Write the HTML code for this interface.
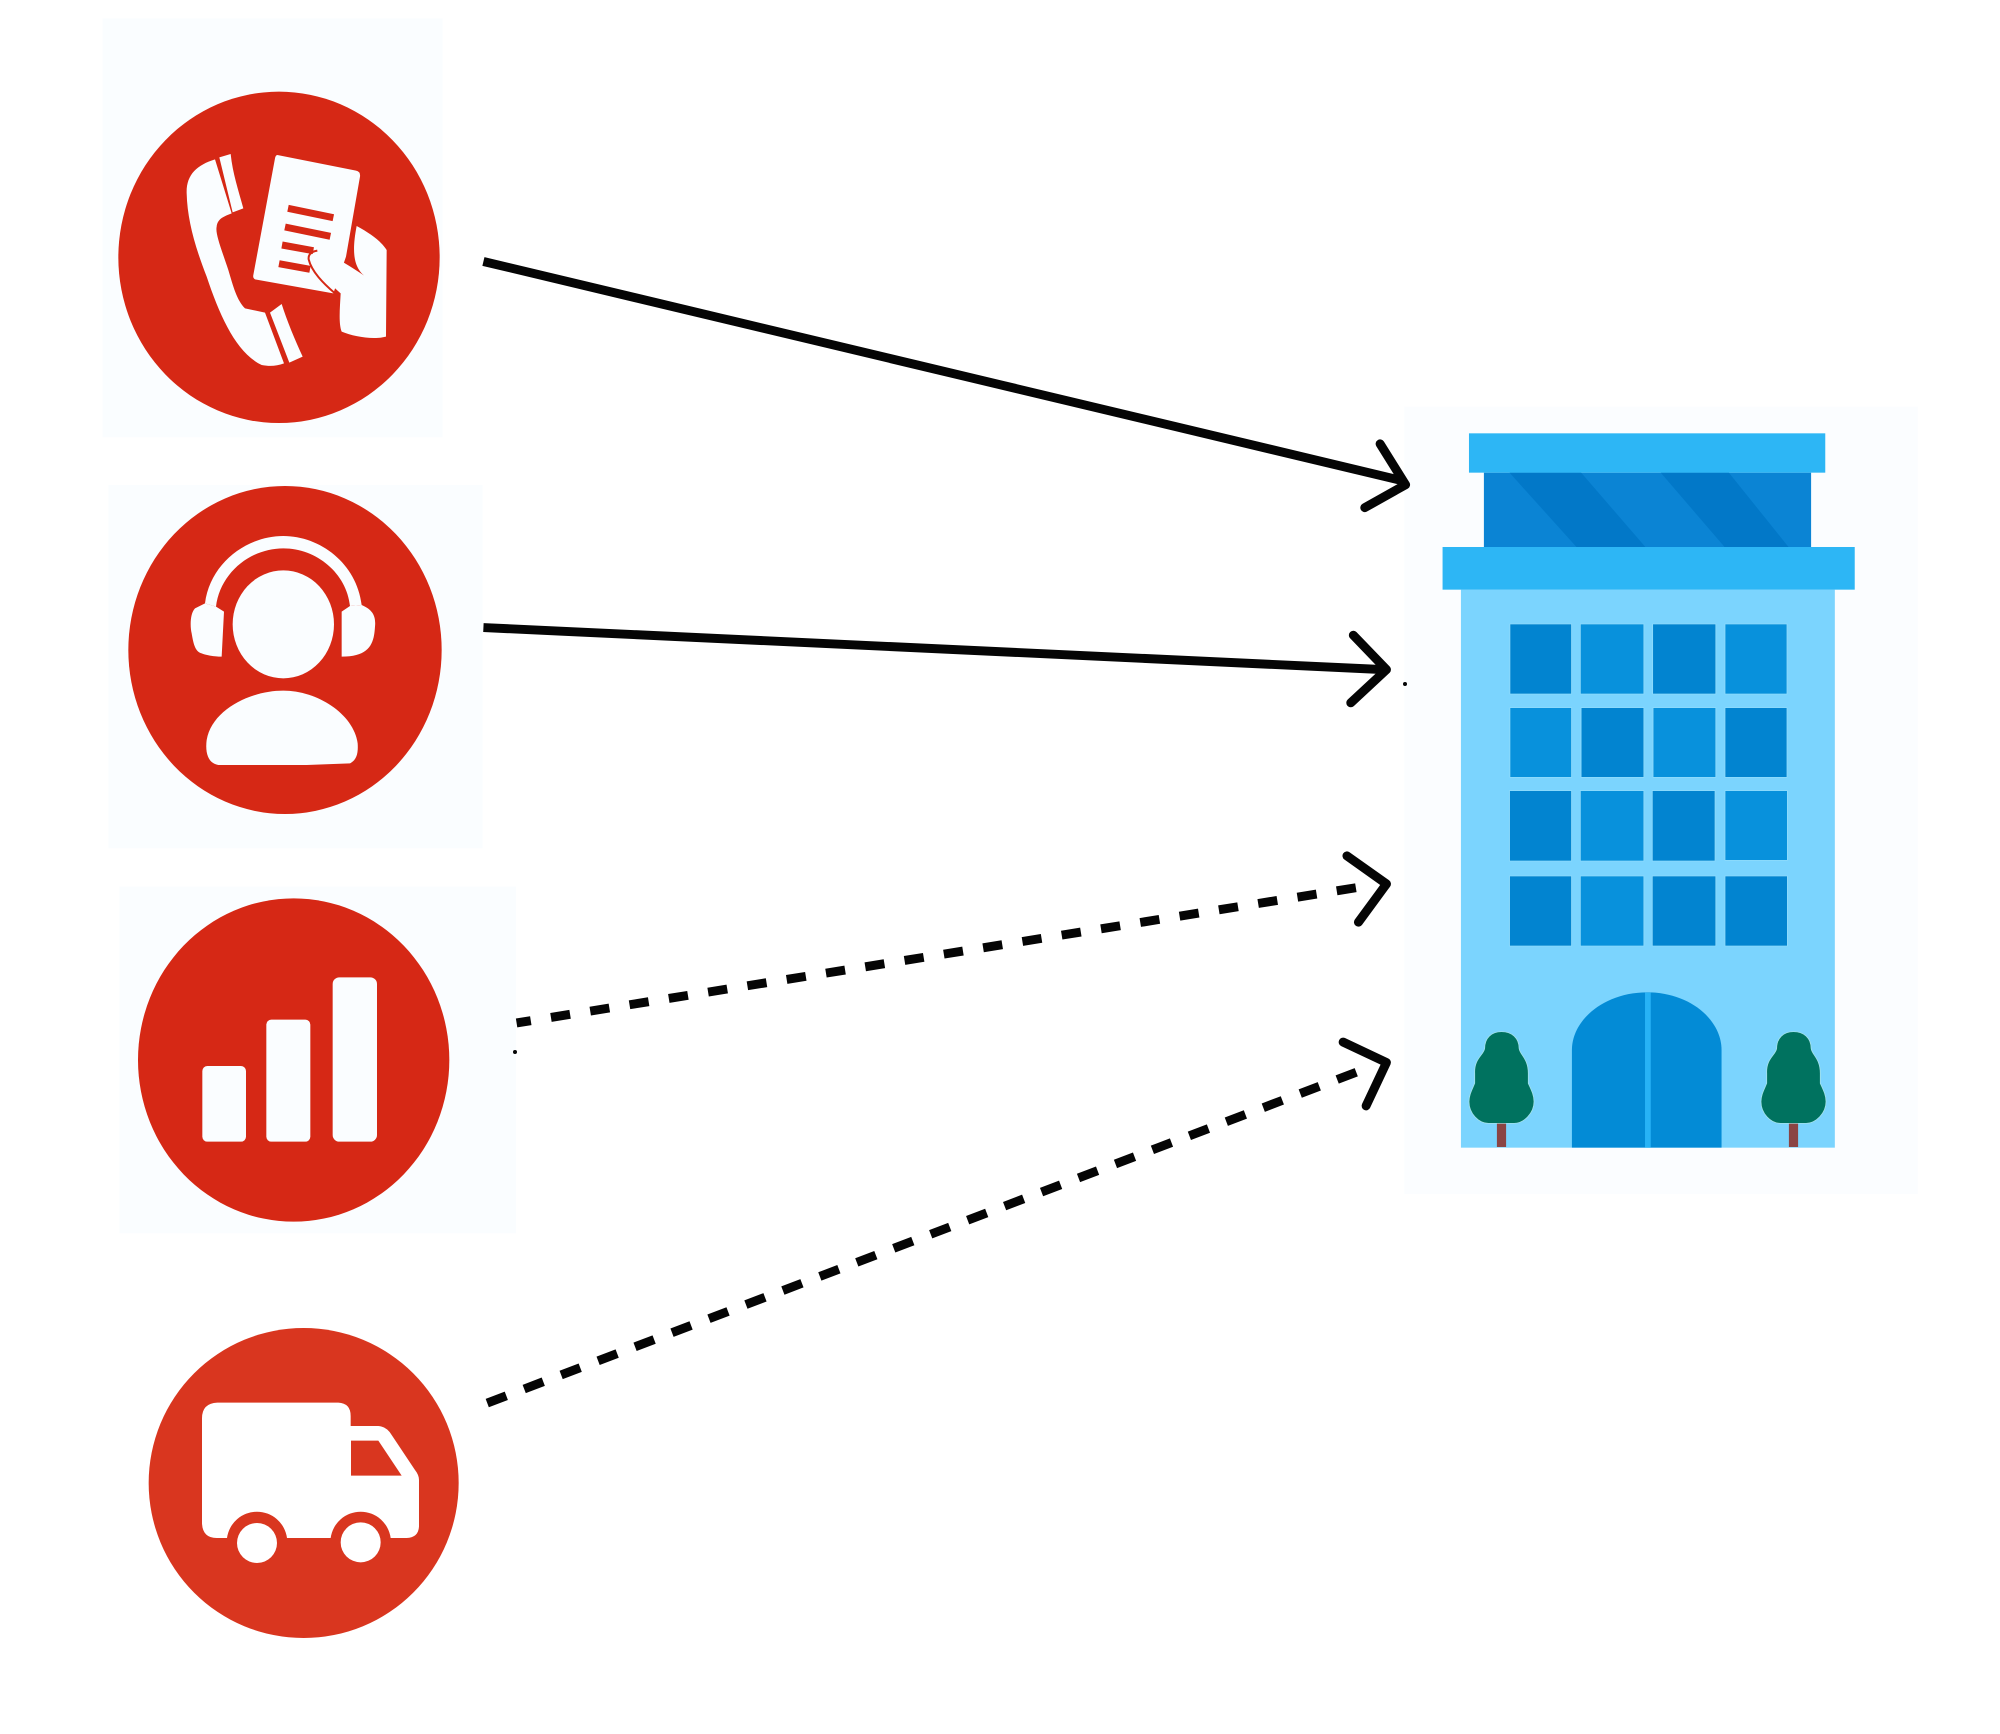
<!DOCTYPE html>
<html>
<head>
<meta charset="utf-8">
<style>
html,body{margin:0;padding:0;background:#fff;width:2000px;height:1734px;overflow:hidden}
svg{display:block}
</style>
</head>
<body>
<svg xmlns="http://www.w3.org/2000/svg" width="2000" height="1734" viewBox="0 0 2000 1734">
<rect width="2000" height="1734" fill="#fff"/>

<!-- Icon 1 -->
<g transform="translate(80,0) scale(0.33333)">
<rect x="68" y="55" width="1020" height="1257" fill="#fafdff"/>
<ellipse cx="597" cy="772" rx="482" ry="497" fill="#d62815"/>
<path fill="#fafdff" d="M405,478 C350,495 318,525 320,580 C322,660 345,740 380,830 C420,950 470,1060 545,1095 C570,1100 590,1098 612,1090 L555,938 L495,925 C470,900 460,860 445,810 C425,750 405,700 410,680 C412,655 435,648 455,640 Z"/>
<path fill="#fafdff" d="M418,472 L452,462 C458,520 475,570 490,625 L458,637 Z"/>
<path fill="#fafdff" d="M570,938 L605,912 C620,960 645,1020 668,1070 L628,1088 Z"/>
<path fill="#fafdff" d="M592,465 L828,512 Q842,515 840,530 L798,770 L760,880 L525,838 Q518,834 520,825 L585,475 Q587,465 592,465 Z"/>
<g stroke="#d62815" stroke-width="21" fill="none">
<path d="M624,625 L760,653"/>
<path d="M615,681 L751,709"/>
<path d="M606,735 L700,752"/>
<path d="M597,791 L690,808"/>
</g>
<path fill="#d62815" d="M800,770 L828,675 L870,840 Z"/>
<path fill="#fafdff" d="M830,678 C870,700 900,720 920,750 L918,1010 C880,1020 820,1010 785,995 C775,970 780,920 782,880 C750,850 700,810 692,775 C690,755 720,755 740,760 C780,780 830,810 868,838 C830,815 810,780 830,678 Z"/>
<path fill="none" stroke="#d62815" stroke-width="6" d="M765,880 C730,850 695,815 686,778 C684,762 695,755 712,752"/>
</g>

<!-- Icon 2 -->
<g transform="translate(90,470) scale(0.33333)">
<rect x="55" y="45" width="1123" height="1090" fill="#fafdff"/>
<ellipse cx="585" cy="540" rx="470" ry="492" fill="#d62815"/>
<ellipse cx="580" cy="463" rx="152" ry="162" fill="#fafdff"/>
<path fill="#fafdff" d="M385,885 C355,880 345,850 350,810 C365,720 480,662 580,662 C680,662 790,730 803,820 C805,850 800,870 780,880 L650,885 Z"/>
<path fill="#fafdff" d="M345,400 C360,280 470,198 580,198 C690,198 800,280 815,405 L780,408 C770,310 680,235 580,235 C480,235 390,310 378,410 Z"/>
<path fill="#fafdff" d="M345,400 L315,415 C300,430 300,470 305,490 C310,520 315,545 335,550 C360,560 395,560 395,560 L402,425 L378,410 Z"/>
<path fill="#fafdff" d="M815,405 C850,420 858,440 855,470 C852,520 840,560 755,560 L755,425 L780,408 Z"/>
</g>

<!-- Icon 3 -->
<g transform="translate(110,870) scale(0.33333)">
<rect x="28" y="50" width="1190" height="1040" fill="#fafdff"/>
<ellipse cx="551" cy="570" rx="467" ry="485" fill="#d62815"/>
<rect x="277" y="588" width="131" height="227" rx="15" fill="#fafdff"/>
<rect x="469" y="449" width="132" height="366" rx="15" fill="#fafdff"/>
<rect x="668" y="322" width="133" height="493" rx="20" fill="#fafdff"/>
</g>

<!-- Icon 4 -->
<g transform="translate(130,1310) scale(0.33333)">
<circle cx="521" cy="519" r="465" fill="#d9361f"/>
<path fill="#fff" d="M262,278 H625 Q662,280 662,318 V348 H745 Q770,350 785,375 L855,480 Q867,495 867,510 V650 Q865,683 830,684 H782 A90.8 90.8 0 0 0 602,684 H471 A90.8 90.8 0 0 0 291,684 H260 Q218,684 216,640 V325 Q216,280 262,278 Z"/>
<path fill="#d9361f" d="M663,392 H745 L815,497 H663 Z"/>
<circle cx="381" cy="699" r="60" fill="#fff"/>
<circle cx="692" cy="697" r="60" fill="#fff"/>
</g>

<!-- Building -->
<g transform="translate(1340,400) scale(0.3827,0.33333)">
<rect x="168" y="20" width="1342" height="2362" fill="#fbfdff"/>
<rect x="376" y="218" width="855" height="223" fill="#0b84d4"/>
<path fill="#0278c8" d="M443,218 H630 L798,441 H618 Z"/>
<path fill="#0278c8" d="M838,218 H1016 L1172,441 H1005 Z"/>
<rect x="337" y="100" width="931" height="118" fill="#2db6f5"/>
<rect x="316" y="569" width="977" height="1674" fill="#7bd4fe"/>
<rect x="268" y="441" width="1077" height="128" fill="#2db6f5"/>
<g stroke="#93dcfb" stroke-width="2">
<rect x="444" y="672" width="161" height="210" fill="#0284d0"/>
<rect x="628" y="672" width="166" height="210" fill="#0891dc"/>
<rect x="817" y="672" width="165" height="210" fill="#0284d0"/>
<rect x="1006" y="672" width="162" height="210" fill="#0891dc"/>
<rect x="444" y="923" width="161" height="209" fill="#0891dc"/>
<rect x="630" y="923" width="164" height="209" fill="#0284d0"/>
<rect x="818" y="923" width="164" height="209" fill="#0891dc"/>
<rect x="1006" y="923" width="162" height="209" fill="#0284d0"/>
<rect x="443" y="1172" width="162" height="211" fill="#0284d0"/>
<rect x="628" y="1172" width="166" height="211" fill="#0891dc"/>
<rect x="816" y="1172" width="164" height="211" fill="#0284d0"/>
<rect x="1006" y="1172" width="163" height="209" fill="#0891dc"/>
<rect x="443" y="1428" width="162" height="210" fill="#0284d0"/>
<rect x="628" y="1428" width="166" height="210" fill="#0891dc"/>
<rect x="816" y="1428" width="166" height="210" fill="#0284d0"/>
<rect x="1006" y="1428" width="163" height="210" fill="#0284d0"/>
</g>
<path fill="#038bd6" d="M606,2243 V1950 C606,1860 690,1777 802,1777 C915,1777 997,1860 997,1950 V2243 Z"/>
<rect x="797" y="1778" width="15" height="465" fill="#27b3f6"/>
<g>
<rect x="410" y="2165" width="24" height="76" fill="#8a4444"/>
<path fill="#00725f" stroke="#a8e4e8" stroke-width="2" d="M422,1895 C450,1895 468,1915 468,1945 C470,1965 492,1975 492,2020 V2050 C500,2070 507,2085 507,2105 C507,2140 480,2170 455,2170 H388 C362,2170 337,2140 337,2105 C337,2085 345,2070 352,2050 V2020 C350,1975 376,1965 378,1945 C378,1915 395,1895 422,1895 Z"/>
</g>
<g transform="translate(763,0)">
<rect x="410" y="2165" width="24" height="76" fill="#8a4444"/>
<path fill="#00725f" stroke="#a8e4e8" stroke-width="2" d="M422,1895 C450,1895 468,1915 468,1945 C470,1965 492,1975 492,2020 V2050 C500,2070 507,2085 507,2105 C507,2140 480,2170 455,2170 H388 C362,2170 337,2140 337,2105 C337,2085 345,2070 352,2050 V2020 C350,1975 376,1965 378,1945 C378,1915 395,1895 422,1895 Z"/>
</g>
</g>

<!-- Arrows -->
<g transform="scale(1.27551)" fill="none" stroke="#050505" stroke-linejoin="round" stroke-linecap="butt">
<line x1="379" y1="205" x2="1100" y2="377" stroke-width="7"/>
<path d="M1082,348 L1102,380 L1070,398" stroke-width="7" stroke-linecap="round"/>
<line x1="379" y1="492" x2="1085" y2="525" stroke-width="7"/>
<path d="M1061,498 L1087,525 L1059,551" stroke-width="7" stroke-linecap="round"/>
<line x1="1063" y1="696" x2="405" y2="802" stroke-width="7" stroke-dasharray="15.2 16"/>
<path d="M1056,671 L1087,693 L1065,723" stroke-width="7" stroke-linecap="round"/>
<line x1="382" y1="1100" x2="1065" y2="840" stroke-width="7" stroke-dasharray="16 15"/>
<path d="M1053,817 L1087,833 L1071,867" stroke-width="7" stroke-linecap="round"/>
</g>
<circle cx="1405" cy="684" r="2" fill="#050505"/>
<circle cx="515" cy="1052" r="2" fill="#050505"/>
</svg>
</body>
</html>
